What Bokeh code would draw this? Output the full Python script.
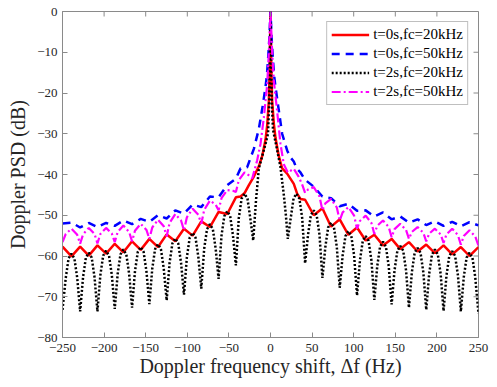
from bokeh.plotting import figure
from bokeh.models import Range1d, FixedTicker, Legend, LegendItem
from bokeh.embed import file_html
from bokeh.resources import INLINE

# ---------------- data ----------------
x_ticks = [-250, -200, -150, -100, -50, 0, 50, 100, 150, 200, 250]
y_ticks = [-80, -70, -60, -50, -40, -30, -20, -10, 0]

labels = ["t=0s,fc=20kHz", "t=0s,fc=50kHz", "t=2s,fc=20kHz", "t=2s,fc=50kHz"]

red_x = [-250, -239.2, -228.8, -218.4, -208.0, -197.6, -187.2, -176.8, -166.4, -156.0,
         -145.6, -135.2, -124.8, -114.4, -104.0, -93.6, -83.2, -72.8, -62.4, -52.0,
         -41.6, -36, -31, -26, -20, -14, -10, -6, -4, -2, -1, 0,
         1, 2, 4, 6, 10, 14, 20, 28, 32, 36, 41.6, 52.0, 62.4, 72.8, 83.2, 93.6,
         104.0, 114.4, 124.8, 135.2, 145.6, 156.0, 166.4, 176.8, 187.2, 197.6,
         208.0, 218.4, 228.8, 239.2, 250]
red_y = [-57.7, -60.1, -57.7, -59.9, -57.4, -59.4, -57.0, -59.1, -56.4, -58.5,
         -55.8, -57.8, -54.7, -56.4, -53.3, -55.0, -51.5, -52.9, -49.2, -49.7,
         -45.6, -45.4, -44.5, -42.6, -40.5, -38.0, -35.5, -31.5, -28.0, -22.0, -14.0, 0.0,
         -14.0, -22.0, -27.5, -31.0, -35.5, -38.5, -39.8, -42.3, -44.7, -46.0, -46.2, -50.0,
         -48.3, -52.8, -51.0, -54.8, -53.0, -56.2, -54.8, -57.4, -55.8, -58.3, -56.6, -58.9,
         -57.2, -59.3, -57.4, -59.6, -57.8, -60.0, -57.8]

blue_x = [-250, -239.2, -228.8, -218.4, -208.0, -197.6, -187.2, -176.8, -166.4, -156.0,
          -145.6, -135.2, -124.8, -114.4, -104.0, -93.6, -83.2, -72.8, -62.4, -52.0,
          -41.6, -36, -28, -20, -14, -9, -6, -4.5, -3, -1.5, 0,
          1.5, 3, 4.5, 6, 10, 14, 20, 24, 28, 31.2, 36, 41.6, 52.0, 62.4, 72.8, 83.2,
          93.6, 104.0, 114.4, 124.8, 135.2, 145.6, 156.0, 166.4, 176.8, 187.2, 197.6,
          208.0, 218.4, 228.8, 239.2, 250]
blue_y = [-52.0, -51.8, -53.0, -51.9, -52.9, -51.9, -52.6, -51.3, -52.2, -50.9,
          -51.6, -50.0, -50.8, -48.8, -49.6, -47.4, -48.0, -45.4, -45.6, -42.6,
          -41.0, -38.5, -38.2, -33.7, -28.8, -22.7, -18.5, -16.0, -12.0, -7.0, 0.0,
          -7.0, -12.0, -16.0, -18.5, -24.3, -30.0, -34.1, -35.8, -36.8, -38.5, -39.5, -41.3,
          -43.0, -45.4, -45.8, -47.8, -47.2, -48.9, -48.8, -50.3, -49.3, -51.0, -50.3,
          -51.8, -51.0, -52.4, -51.5, -52.6, -51.6, -52.7, -51.7, -52.5]

black_x = [-250, -246.1, -242.7, -239.2, -235.7, -232.3, -228.8, -225.3, -221.9, -218.4,
           -214.9, -211.5, -208.0, -204.5, -201.1, -197.6, -194.1, -190.7, -187.2, -183.7,
           -180.3, -176.8, -173.3, -169.9, -166.4, -162.9, -159.5, -156.0, -152.5, -149.1,
           -145.6, -142.1, -138.7, -135.2, -131.7, -128.3, -124.8, -121.3, -117.9, -114.4,
           -110.9, -107.5, -104.0, -100.5, -97.1, -93.6, -90.1, -86.7, -83.2, -79.7,
           -76.3, -72.8, -69.3, -65.9, -62.4, -58.9, -55.5, -52.0, -48.5, -45.1,
           -41.6, -38.1, -34.7, -31.2, -27.7, -24.3, -20.8, -17.3, -14, -10,
           -6, -3, -1.5, 0, 1.5, 3, 4.5, 8, 12, 16,
           18.5, 20.8, 24.3, 27.7, 31.2, 34.7, 38.1, 41.6, 45.1, 48.5,
           52.0, 55.5, 58.9, 62.4, 65.9, 69.3, 72.8, 76.3, 79.7, 83.2,
           86.7, 90.1, 93.6, 97.1, 100.5, 104.0, 107.5, 110.9, 114.4, 117.9,
           121.3, 124.8, 128.3, 131.7, 135.2, 138.7, 142.1, 145.6, 149.1, 152.5,
           156.0, 159.5, 162.9, 166.4, 169.9, 173.3, 176.8, 180.3, 183.7, 187.2,
           190.7, 194.1, 197.6, 201.1, 204.5, 208.0, 211.5, 214.9, 218.4, 221.9,
           225.3, 228.8, 232.3, 235.7, 239.2, 242.7, 246.1, 250]
black_y = [-73.2, -65.4, -60.6, -59.4, -60.6, -65.4, -73.6, -65.2, -60.4, -59.2,
           -60.4, -65.2, -73.6, -64.7, -59.9, -58.7, -59.9, -64.7, -73.0, -64.4,
           -59.6, -58.4, -59.6, -64.4, -72.7, -63.8, -59.0, -57.8, -59.0, -63.8,
           -71.8, -63.1, -58.3, -57.1, -58.3, -63.1, -70.9, -61.7, -56.9, -55.7,
           -56.9, -61.7, -69.5, -60.3, -55.5, -54.3, -55.5, -60.3, -68.0, -58.2,
           -53.4, -52.2, -53.4, -58.2, -65.6, -55.0, -50.2, -49.0, -50.2, -55.0,
           -62.3, -50.7, -45.9, -44.7, -45.9, -50.7, -56.2, -46.0, -38.5, -35.5,
           -32.5, -30.0, -22.0, 0.0, -22.0, -29.0, -30.5, -34.0, -38.2, -45.0,
           -50.0, -55.8, -50.7, -45.9, -44.7, -45.9, -50.7, -61.8, -54.8, -50.0,
           -48.8, -50.0, -54.8, -65.4, -57.8, -53.0, -51.8, -53.0, -57.8, -67.8,
           -59.9, -55.1, -53.9, -55.1, -59.9, -69.7, -61.1, -56.3, -55.1, -56.3,
           -61.1, -70.8, -62.5, -57.7, -56.5, -57.7, -62.5, -71.9, -63.5, -58.7,
           -57.5, -58.7, -63.5, -72.7, -64.0, -59.2, -58.0, -59.2, -64.0, -73.2,
           -64.4, -59.6, -58.4, -59.6, -64.4, -73.5, -64.8, -60.0, -58.8, -60.0,
           -64.8, -73.6, -65.2, -60.4, -59.2, -60.4, -65.2, -74.2]

mag_x = [-250, -246.1, -239.2, -232.3, -228.8, -225.3, -218.4, -211.5, -208.0, -204.5,
         -197.6, -190.7, -187.2, -183.7, -176.8, -169.9, -166.4, -162.9, -156.0, -149.1,
         -145.6, -142.1, -135.2, -128.3, -124.8, -121.3, -114.4, -107.5, -104.0, -100.5,
         -93.6, -86.7, -83.2, -79.7, -72.8, -65.9, -62.4, -58.9, -52.0, -45.1,
         -41.6, -38.1, -31.2, -26, -22, -16, -12, -8, -4, -2, 0,
         2, 4, 8, 12, 16, 20.8, 28, 34, 38.1, 41.6, 45.1, 52.0, 58.9, 62.4, 65.9,
         72.8, 79.7, 83.2, 86.7, 93.6, 100.5, 104.0, 107.5, 114.4, 121.3, 124.8, 128.3,
         135.2, 142.1, 145.6, 149.1, 156.0, 162.9, 166.4, 169.9, 176.8, 183.7, 187.2,
         190.7, 197.6, 204.5, 208.0, 211.5, 218.4, 225.3, 228.8, 232.3, 239.2, 246.1, 250]
mag_y = [-56.6, -54.6, -53.3, -54.8, -57.0, -54.7, -53.1, -54.6, -56.9, -54.6,
         -53.1, -54.5, -56.6, -54.1, -52.5, -54.1, -56.4, -53.8, -52.1, -53.6,
         -55.8, -53.0, -51.1, -52.7, -55.2, -51.9, -49.7, -51.3, -53.7, -50.5,
         -48.4, -49.9, -52.1, -48.7, -46.4, -47.4, -48.8, -45.8, -43.8, -44.0,
         -44.3, -41.4, -39.5, -40.2, -41.0, -36.5, -32.5, -26.0, -18.0, -10.0, 0.0,
         -10.0, -17.0, -24.5, -32.5, -37.5, -39.5, -38.6, -40.6, -42.5, -44.5, -43.7, -43.1, -45.4, -48.8, -47.1,
         -46.0, -48.1, -51.3, -49.3, -48.0, -50.1, -53.3, -51.4, -50.1, -51.9, -54.6, -52.6,
         -51.3, -52.9, -55.4, -53.4, -52.1, -53.6, -55.8, -54.1, -52.9, -54.3, -56.4,
         -54.5, -53.3, -54.7, -56.8, -54.7, -53.3, -54.9, -57.2, -55.1, -53.7, -55.2, -57.5]

# ---------------- figure ----------------
FONT = "Liberation Serif"
AXIS_GRAY = "#8a8a8a"
TEXT_DARK = "#262626"
X0, X1, Y0, Y1 = -250, 250, -80, 0
FRAME_W, FRAME_H = 416, 326   # plot-area size in px
TICK_PX = 5                   # inward tick length in px

p = figure(width=497, height=387, output_backend="svg", toolbar_location=None,
           x_range=Range1d(X0, X1), y_range=Range1d(Y0, Y1),
           min_border_left=62, min_border_right=19, min_border_top=11, min_border_bottom=50)
p.grid.visible = False
p.outline_line_color = AXIS_GRAY
p.background_fill_color = "white"
p.border_fill_color = "white"

r_red = p.line(red_x, red_y, line_color="#ff0000", line_width=2.5)
r_blue = p.line(blue_x, blue_y, line_color="#0000ff", line_width=2.5, line_dash="8 6")
r_black = p.line(black_x, black_y, line_color="#000000", line_width=2.5, line_dash="2 2")
r_mag = p.line(mag_x, mag_y, line_color="#ff00ff", line_width=2.2, line_dash="9 3 2 3")

# inward ticks on the top and right edges of the box (MATLAB "box on")
tx = TICK_PX * (X1 - X0) / FRAME_W
ty = TICK_PX * (Y1 - Y0) / FRAME_H
p.segment(x0=x_ticks, y0=[Y1] * len(x_ticks), x1=x_ticks, y1=[Y1 - ty] * len(x_ticks),
          line_color=AXIS_GRAY, line_width=1)
p.segment(x0=[X1] * len(y_ticks), y0=y_ticks, x1=[X1 - tx] * len(y_ticks), y1=y_ticks,
          line_color=AXIS_GRAY, line_width=1)


def style_axis(ax):
    ax.axis_line_color = AXIS_GRAY
    ax.major_tick_line_color = AXIS_GRAY
    ax.minor_tick_line_color = None
    ax.major_tick_in = TICK_PX
    ax.major_tick_out = 0
    ax.major_label_text_font = FONT
    ax.major_label_text_font_size = "13px"
    ax.major_label_text_color = TEXT_DARK
    ax.axis_label_text_font = FONT
    ax.axis_label_text_font_size = "20px"
    ax.axis_label_text_font_style = "normal"
    ax.axis_label_text_color = TEXT_DARK


xa = p.xaxis[0]
xa.ticker = FixedTicker(ticks=x_ticks)
xa.axis_label = "Doppler frequency shift, Δf (Hz)"
style_axis(xa)
xa.major_label_standoff = 6
xa.axis_label_standoff = 0

ya = p.yaxis[0]
ya.ticker = FixedTicker(ticks=y_ticks)
ya.axis_label = "Doppler PSD (dB)"
style_axis(ya)
ya.major_label_standoff = 5
ya.axis_label_standoff = 5

legend = Legend(items=[LegendItem(label=labels[0], renderers=[r_red]),
                       LegendItem(label=labels[1], renderers=[r_blue]),
                       LegendItem(label=labels[2], renderers=[r_black]),
                       LegendItem(label=labels[3], renderers=[r_mag])],
                location="top_right")
legend.margin = 10
legend.padding = 4
legend.spacing = 2
legend.glyph_width = 38
legend.glyph_height = 15
legend.label_height = 15
legend.label_standoff = 4
legend.label_text_font = FONT
legend.label_text_font_size = "15px"
legend.label_text_color = "#000000"
legend.border_line_color = "#808080"
legend.border_line_width = 1
legend.background_fill_color = "white"
legend.background_fill_alpha = 1.0
p.add_layout(legend)

open("out.html", "w").write(file_html(p, INLINE))
